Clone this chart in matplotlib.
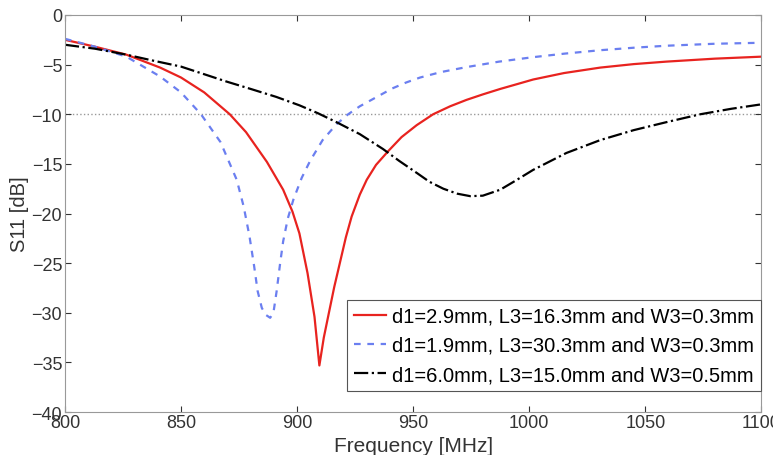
import matplotlib
matplotlib.use("Agg")
import matplotlib.pyplot as plt

# S11 curves
f_red = [800, 813, 826.5, 841, 850, 860, 871, 878, 887, 894, 898, 901, 904.5, 907.5, 909.6,
         911.5, 913.7, 916, 918.5, 921, 923.5, 927, 930, 934, 939.3, 945, 951.5, 958.6, 965.9,
         973, 980, 987.5, 995, 1001.7, 1015, 1030.6, 1045, 1059, 1080, 1100]
s_red = [-2.5, -3.2, -4.0, -5.3, -6.3, -7.8, -10.0, -11.8, -14.8, -17.6, -19.8, -22.0, -26.0,
         -30.4, -35.3, -32.5, -30.0, -27.4, -24.9, -22.4, -20.3, -18.1, -16.6, -15.1, -13.7,
         -12.3, -11.1, -10.0, -9.2, -8.55, -8.0, -7.45, -6.95, -6.5, -5.85, -5.3, -4.95, -4.7,
         -4.4, -4.2]

f_blue = [800, 813, 826.5, 841, 850, 858.6, 867, 874, 877, 879.5, 881.5, 883, 884.8, 886.5,
          888.4, 889.8, 891.2, 892.7, 894, 896, 898.4, 902, 905.6, 911, 917, 922, 927, 934,
          941, 947, 953, 962, 973, 987, 1001.7, 1015, 1030.6, 1045, 1059, 1080, 1100]
s_blue = [-2.4, -3.2, -4.2, -6.2, -7.8, -10.0, -12.8, -16.6, -19.3, -22.3, -25.3, -27.8,
          -29.5, -30.2, -30.5, -30.0, -27.8, -25.0, -22.8, -20.5, -18.6, -16.4, -14.7, -12.6,
          -11.0, -10.0, -9.2, -8.3, -7.4, -6.8, -6.3, -5.75, -5.25, -4.7, -4.25, -3.9, -3.55,
          -3.3, -3.1, -2.9, -2.8]

f_black = [800, 813, 826.5, 838, 850, 869.5, 880, 891, 901, 909, 917, 927, 937, 944, 951.5,
           957, 963, 969, 974.6, 980, 987.5, 994, 1001.7, 1016, 1030.6, 1045, 1059, 1073.7,
           1087, 1100]
s_black = [-3.0, -3.4, -4.0, -4.6, -5.2, -6.7, -7.45, -8.25, -9.1, -9.9, -10.8, -12.0, -13.5,
           -14.7, -15.9, -16.8, -17.5, -18.0, -18.25, -18.2, -17.6, -16.7, -15.6, -13.9, -12.6,
           -11.6, -10.8, -10.0, -9.45, -9.0]

labels = ["d1=2.9mm, L3=16.3mm and W3=0.3mm",
          "d1=1.9mm, L3=30.3mm and W3=0.3mm",
          "d1=6.0mm, L3=15.0mm and W3=0.5mm"]

plt.rcParams['font.family'] = ['Liberation Sans', 'DejaVu Sans']

fig = plt.figure(figsize=(7.73, 4.56), dpi=100)
ax = fig.add_axes([0.084, 0.094, 0.901, 0.871])

ax.axhline(-10, color='#999999', linestyle=':', linewidth=1.0, zorder=1)
ax.plot(f_red, s_red, color='#e8231f', linewidth=1.6, label=labels[0])
ax.plot(f_blue, s_blue, color='#6b7ff0', linewidth=1.6, linestyle=(0, (3, 3)), label=labels[1])
ax.plot(f_black, s_black, color='black', linewidth=1.6, linestyle='-.', label=labels[2])

ax.set_xlim(800, 1100)
ax.set_ylim(-40, 0)
ax.set_xticks(range(800, 1101, 50))
ax.set_yticks(range(-40, 1, 5))
ax.tick_params(direction='in', labelsize=13, colors='#333333', length=4, pad=2,
               top=True, right=True, labeltop=False, labelright=False)
ax.tick_params(axis='x', pad=1)
for s in ax.spines.values():
    s.set_color('#999999')

ax.set_xlabel('Frequency [MHz]', fontsize=15, color='#333333', labelpad=4)
ax.set_ylabel('S11 [dB]', fontsize=14.5, color='#333333', labelpad=2)

leg = ax.legend(loc='lower right', bbox_to_anchor=(1.0, 0.053), borderaxespad=0,
                fontsize=14.5, handlelength=1.6, handletextpad=0.3, borderpad=0.35,
                labelspacing=0.5, fancybox=False, framealpha=1)
leg.get_frame().set_edgecolor('#555555')
leg.get_frame().set_linewidth(0.8)

fig.savefig('out.png', dpi=100)
